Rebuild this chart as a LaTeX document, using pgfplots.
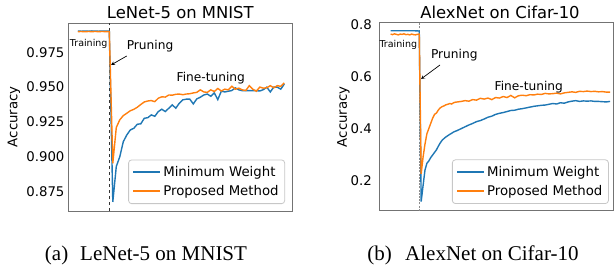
\documentclass[border=0pt]{standalone}
\usepackage{fontspec}
\setmainfont{DejaVu Sans}
\newfontfamily\capfont{Liberation Serif}
\usepackage{pgfplots}
\pgfplotsset{compat=1.18}
\definecolor{mblue}{HTML}{1F77B4}
\definecolor{morange}{HTML}{FF7F0E}

\pgfplotsset{mystyle/.style={
  scale only axis, anchor=south west,
  xtick=\empty, major tick length=0pt,
  axis line style={black!55, line width=0.9pt},
  tick label style={font=\fontsize{13.3}{16}\selectfont},
  /pgf/number format/assume math mode=true,
  legend style={font=\fontsize{13.3}{16}\selectfont, draw=black!22, line width=0.8pt, rounded corners=3pt, fill=white, fill opacity=0.8, text opacity=1, draw opacity=1, anchor=south east, legend cell align=left, inner xsep=4pt, inner ysep=4.5pt, row sep=3.5pt},
  legend image code/.code={\draw[#1, line width=1.7pt] (0pt,0pt) -- (27pt,0pt);},
  every axis plot/.append style={line width=1.4pt},
}}

\begin{document}
\begin{tikzpicture}
\path[use as bounding box] (0pt,0pt) rectangle (614pt,269pt);

% ---------------- Left panel ----------------
\begin{axis}[mystyle, at={(68pt,58pt)}, width=224pt, height=188pt,
  xmin=-11.8, xmax=52.2, ymin=0.861, ymax=0.996,
  ytick={0.875,0.9,0.925,0.95,0.975},
  yticklabels={0.875,0.900,0.925,0.950,0.975},
  legend style={at={(0.969,0.037)}}]
\addplot[black!80, dashed, line width=0.7pt, forget plot] coordinates {(0,0.861) (0,0.996)};
\addplot[mblue] coordinates {
(-9,0.9902) (-8,0.9901) (-7,0.9902) (-6,0.9901) (-5,0.9903) (-4,0.9902) (-3,0.9901) (-2,0.9902) (-1,0.9902) (0,0.9902)
(1,0.8675) (2,0.893) (3,0.900) (4,0.9108) (5,0.9156) (6,0.9192) (7,0.9204) (8,0.9233) (9,0.9236) (10,0.9276)
(11,0.928) (12,0.930) (13,0.929) (14,0.9324) (15,0.9341) (16,0.9324) (17,0.9348) (18,0.9372) (19,0.9348) (20,0.9384)
(21,0.9408) (22,0.9413) (23,0.9413) (24,0.9379) (25,0.9415) (26,0.9427) (27,0.9443) (28,0.945) (29,0.9434) (30,0.9458)
(31,0.941) (32,0.947) (33,0.9465) (34,0.947) (35,0.9475) (36,0.9494) (37,0.948) (38,0.9474) (39,0.9474) (40,0.9475)
(41,0.9474) (42,0.9474) (43,0.9472) (44,0.9481) (45,0.9499) (46,0.9465) (47,0.950) (48,0.9499) (49,0.9485) (50,0.9522)
};
\addplot[morange] coordinates {
(-9,0.9898) (-8,0.9899) (-7,0.9897) (-6,0.9899) (-5,0.9898) (-4,0.9899) (-3,0.9898) (-2,0.9899) (-1,0.9898) (0,0.9899)
(1,0.8953) (2,0.921) (3,0.9265) (4,0.9295) (5,0.9312) (6,0.933) (7,0.934) (8,0.9355) (9,0.9375) (10,0.9393)
(11,0.940) (12,0.9403) (13,0.9395) (14,0.9420) (15,0.9430) (16,0.9428) (17,0.9443) (18,0.9442) (19,0.9448) (20,0.9450)
(21,0.9445) (22,0.9450) (23,0.9452) (24,0.9458) (25,0.9462) (26,0.948) (27,0.9465) (28,0.9462) (29,0.948) (30,0.9468)
(31,0.949) (32,0.9472) (33,0.9485) (34,0.948) (35,0.9506) (36,0.9485) (37,0.9492) (38,0.948) (39,0.9475) (40,0.951)
(41,0.9485) (42,0.947) (43,0.950) (44,0.9492) (45,0.9495) (46,0.951) (47,0.9495) (48,0.951) (49,0.9505) (50,0.953)
};
\legend{Minimum Weight, Proposed Method}
\end{axis}

% ---------------- Right panel ----------------
\begin{axis}[mystyle, at={(379pt,58.3pt)}, width=234.5pt, height=188pt,
  xmin=-21.1, xmax=101.8, ymin=0.083, ymax=0.809,
  ytick={0.2,0.4,0.6,0.8},
  yticklabels={0.2,0.4,0.6,0.8},
  yticklabel style={xshift=-3.6pt},
  legend style={at={(0.980,0.036)}}]
\addplot[black!45, dash pattern=on 2pt off 1.2pt, line width=1.4pt, forget plot] coordinates {(0,0.083) (0,0.809)};
\addplot[mblue] coordinates {
(-15,0.778) (-12,0.778) (-9,0.778) (-6,0.778) (-3,0.778) (0,0.777)
(1,0.118) (2,0.18) (3,0.24) (4,0.266) (5,0.275) (6,0.288) (7,0.298) (8,0.308) (9,0.318) (10,0.332)
(11,0.345) (12,0.355) (13,0.362) (14,0.368) (15,0.373) (16,0.378) (17,0.382) (18,0.387) (19,0.390) (20,0.393)
(22,0.400) (24,0.407) (26,0.414) (28,0.420) (30,0.427) (32,0.431) (34,0.437) (36,0.444) (38,0.448) (40,0.455)
(42,0.459) (44,0.462) (46,0.466) (48,0.470) (50,0.471) (52,0.475) (54,0.477) (56,0.480) (58,0.483) (60,0.486)
(62,0.488) (64,0.490) (66,0.491) (68,0.494) (70,0.497) (72,0.495) (74,0.500) (76,0.498) (78,0.503) (80,0.506)
(82,0.508) (84,0.505) (86,0.507) (88,0.506) (90,0.507) (92,0.505) (94,0.505) (96,0.504) (98,0.503) (100,0.505)
};
\addplot[morange] coordinates {
(-15,0.765) (-14,0.763) (-13,0.766) (-12,0.764) (-11,0.762) (-10,0.765) (-9,0.764) (-8,0.766) (-7,0.763) (-6,0.764) (-5,0.762) (-4,0.765) (-3,0.763) (-2,0.762) (-1,0.764) (0,0.765)
(1,0.225) (2,0.29) (3,0.34) (4,0.38) (5,0.40) (6,0.42) (7,0.44) (8,0.455) (9,0.46) (10,0.472)
(11,0.48) (12,0.485) (13,0.488) (14,0.492) (15,0.494) (16,0.497) (17,0.495) (18,0.500) (19,0.502) (20,0.503)
(22,0.505) (24,0.508) (26,0.506) (28,0.512) (30,0.510) (32,0.517) (34,0.514) (36,0.518) (38,0.512) (40,0.520)
(42,0.518) (44,0.524) (46,0.520) (48,0.528) (50,0.519) (52,0.527) (54,0.529) (56,0.527) (58,0.531) (60,0.530)
(62,0.533) (64,0.532) (66,0.536) (68,0.534) (70,0.535) (72,0.537) (74,0.534) (76,0.538) (78,0.540) (80,0.542)
(82,0.540) (84,0.544) (86,0.543) (88,0.545) (90,0.543) (92,0.544) (94,0.542) (96,0.543) (98,0.541) (100,0.541)
};
\legend{Minimum Weight, Proposed Method}
\end{axis}

% ---------------- Annotations ----------------
\begin{scope}[every node/.style={inner sep=0pt}]
% left
\node[anchor=base, font=\fontsize{16.4}{19}\selectfont] at (180.3pt,250.7pt) {LeNet-5 on MNIST};
\node[anchor=base, font=\fontsize{9.5}{11}\selectfont] at (88.7pt,222.7pt) {Training};
\node[anchor=base, font=\fontsize{12.2}{14}\selectfont] at (150pt,219.7pt) {Pruning};
\draw[-stealth, line width=0.7pt] (126.7pt,213pt) -- (111pt,204pt);
\node[anchor=base, font=\fontsize{12.2}{14}\selectfont] at (210.8pt,187.3pt) {Fine-tuning};
\node[rotate=90, font=\fontsize{13.3}{16}\selectfont] at (14pt,152.3pt) {Accuracy};
\node[anchor=base east, font=\capfont\fontsize{21}{24}\selectfont] at (68.5pt,9pt) {(a)};
\node[anchor=base west, font=\capfont\fontsize{21}{24}\selectfont] at (80pt,9pt) {LeNet-5 on MNIST};
% right
\node[anchor=base, font=\fontsize{16.4}{19}\selectfont] at (500pt,250.7pt) {AlexNet on Cifar-10};
\node[anchor=base, font=\fontsize{9.5}{11}\selectfont] at (398.3pt,221.3pt) {Training};
\node[anchor=base, font=\fontsize{12.2}{14}\selectfont] at (454.3pt,210.7pt) {Pruning};
\draw[-stealth, line width=0.7pt] (440pt,204pt) -- (421pt,190pt);
\node[anchor=base, font=\fontsize{12.2}{14}\selectfont] at (528.8pt,179pt) {Fine-tuning};
\node[rotate=90, font=\fontsize{13.3}{16}\selectfont] at (343.3pt,152.3pt) {Accuracy};
\node[anchor=base east, font=\capfont\fontsize{21}{24}\selectfont] at (392pt,9pt) {(b)};
\node[anchor=base west, font=\capfont\fontsize{21}{24}\selectfont] at (405pt,9pt) {AlexNet on Cifar-10};
\end{scope}
\end{tikzpicture}
\end{document}
